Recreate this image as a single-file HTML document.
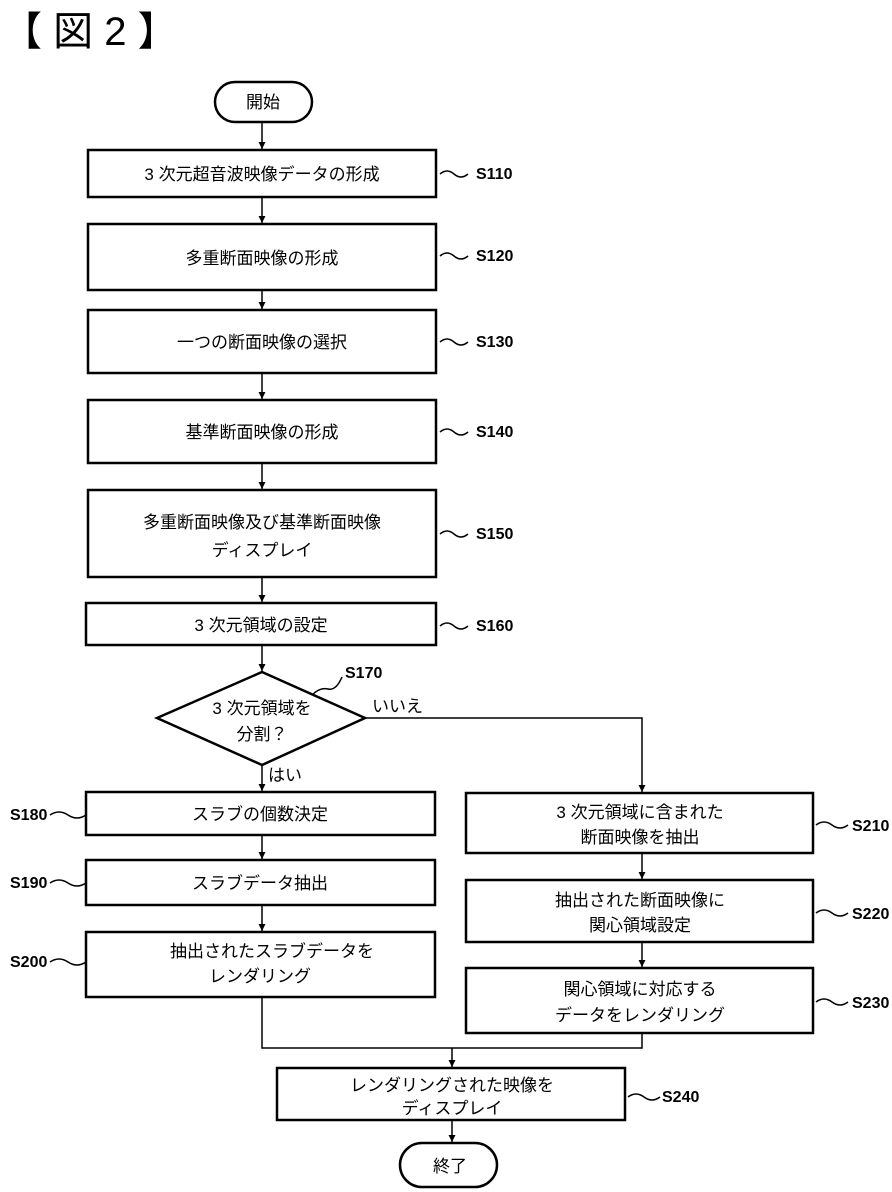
<!DOCTYPE html>
<html><head><meta charset="utf-8"><style>
html,body{margin:0;padding:0;background:#fff;}
svg{display:block;}
text{font-family:"Liberation Sans","Noto Sans CJK JP",sans-serif;fill:#000;}
.b{font-size:17px;}
.l{font-size:16px;font-weight:bold;}
</style></head><body>
<svg width="892" height="1192" viewBox="0 0 892 1192" xmlns="http://www.w3.org/2000/svg">
<defs><marker id="a" markerWidth="8" markerHeight="8" refX="7" refY="3.5" orient="auto" markerUnits="userSpaceOnUse"><path d="M0,0 L7,3.5 L0,7 z" fill="#000"/></marker></defs>
<text x="2" y="45" style="font-size:40px">【 図 2 】</text>
<g fill="none" stroke="#000" stroke-width="2.5">
<rect x="215" y="82" width="97" height="40" rx="20"/>
<rect x="88" y="150" width="348" height="47"/>
<rect x="88" y="224" width="348" height="66"/>
<rect x="88" y="310" width="348" height="63"/>
<rect x="88" y="400" width="348" height="63"/>
<rect x="88" y="490" width="348" height="87"/>
<rect x="86" y="603" width="350" height="42"/>
<polygon points="262,672 365,718 262,765 157,718"/>
<rect x="86" y="792" width="349" height="43"/>
<rect x="86" y="860" width="349" height="45"/>
<rect x="86" y="932" width="349" height="65"/>
<rect x="466" y="793" width="347" height="60"/>
<rect x="466" y="880" width="347" height="62"/>
<rect x="466" y="968" width="347" height="65"/>
<rect x="277" y="1068" width="348" height="52"/>
<rect x="400" y="1143" width="97" height="44" rx="22"/>
</g>
<g fill="none" stroke="#000" stroke-width="1.5">
<line x1="262" y1="122" x2="262" y2="149" marker-end="url(#a)"/>
<line x1="262" y1="197" x2="262" y2="223" marker-end="url(#a)"/>
<line x1="262" y1="290" x2="262" y2="309" marker-end="url(#a)"/>
<line x1="262" y1="373" x2="262" y2="399" marker-end="url(#a)"/>
<line x1="262" y1="463" x2="262" y2="489" marker-end="url(#a)"/>
<line x1="262" y1="577" x2="262" y2="602" marker-end="url(#a)"/>
<line x1="262" y1="645" x2="262" y2="671" marker-end="url(#a)"/>
<line x1="262" y1="765" x2="262" y2="791" marker-end="url(#a)"/>
<line x1="262" y1="835" x2="262" y2="859" marker-end="url(#a)"/>
<line x1="262" y1="905" x2="262" y2="931" marker-end="url(#a)"/>
<polyline points="365,718 642,718 642,792" marker-end="url(#a)"/>
<line x1="642" y1="853" x2="642" y2="879" marker-end="url(#a)"/>
<line x1="642" y1="942" x2="642" y2="967" marker-end="url(#a)"/>
<polyline points="262,997 262,1048 642,1048 642,1033"/>
<line x1="452" y1="1048" x2="452" y2="1067" marker-end="url(#a)"/>
<line x1="452" y1="1120" x2="452" y2="1142" marker-end="url(#a)"/>
<path d="M440,174 q7,-6 14,0 t14,0"/>
<path d="M440,256 q7,-6 14,0 t14,0"/>
<path d="M440,342 q7,-6 14,0 t14,0"/>
<path d="M440,432 q7,-6 14,0 t14,0"/>
<path d="M440,534 q7,-6 14,0 t14,0"/>
<path d="M440,626 q7,-6 14,0 t14,0"/>
<path d="M312,695 q8,-8 16,-6 t14,-12"/>
<path d="M50,815 q9,-6 18,0 t18,0"/>
<path d="M50,883 q9,-6 18,0 t18,0"/>
<path d="M50,962 q9,-6 18,0 t18,0"/>
<path d="M816,825 q8,-6 16,0 t16,0"/>
<path d="M816,913 q8,-6 16,0 t16,0"/>
<path d="M816,1002 q8,-6 16,0 t16,0"/>
<path d="M628,1097 q8,-6 16,0 t16,0"/>
</g>
<g class="b" text-anchor="middle">
<text x="263" y="108">開始</text>
<text x="262" y="180">3 次元超音波映像データの形成</text>
<text x="262" y="264">多重断面映像の形成</text>
<text x="262" y="348">一つの断面映像の選択</text>
<text x="262" y="438">基準断面映像の形成</text>
<text x="262" y="528">多重断面映像及び基準断面映像</text>
<text x="262" y="556">ディスプレイ</text>
<text x="261" y="631">3 次元領域の設定</text>
<text x="262" y="714">3 次元領域を</text>
<text x="262" y="740">分割？</text>
<text x="260" y="820">スラブの個数決定</text>
<text x="260" y="889">スラブデータ抽出</text>
<text x="272" y="957">抽出されたスラブデータを</text>
<text x="260" y="982">レンダリング</text>
<text x="640" y="818">3 次元領域に含まれた</text>
<text x="640" y="843">断面映像を抽出</text>
<text x="640" y="906">抽出された断面映像に</text>
<text x="640" y="931">関心領域設定</text>
<text x="640" y="995">関心領域に対応する</text>
<text x="640" y="1021">データをレンダリング</text>
<text x="452" y="1091">レンダリングされた映像を</text>
<text x="452" y="1114">ディスプレイ</text>
<text x="450" y="1172">終了</text>
</g>
<text x="372" y="712" class="b">いいえ</text>
<text x="268" y="781" class="b">はい</text>
<g class="l">
<text x="476" y="179">S110</text>
<text x="476" y="261">S120</text>
<text x="476" y="347">S130</text>
<text x="476" y="437">S140</text>
<text x="476" y="539">S150</text>
<text x="476" y="631">S160</text>
<text x="345" y="678">S170</text>
<text x="10" y="820">S180</text>
<text x="10" y="888">S190</text>
<text x="10" y="967">S200</text>
<text x="852" y="831">S210</text>
<text x="852" y="919">S220</text>
<text x="852" y="1008">S230</text>
<text x="662" y="1102">S240</text>
</g>
</svg>
</body></html>
